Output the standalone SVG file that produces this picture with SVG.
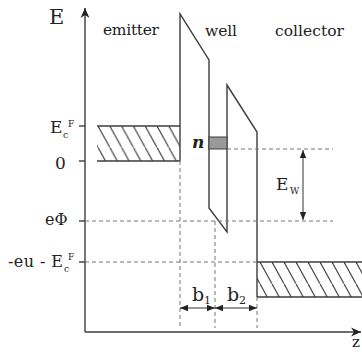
<svg xmlns="http://www.w3.org/2000/svg" width="362" height="356" viewBox="0 0 362 356">
<style>
text{font-family:"DejaVu Serif",serif;fill:#222}
.s{stroke:#3c3c3c;stroke-width:1.4;fill:none}
.d{stroke:#777;stroke-width:1;stroke-dasharray:4 3;fill:none}
.h{stroke:#3c3c3c;stroke-width:1.1}
</style>
<defs>
<pattern id="hatchE" patternUnits="userSpaceOnUse" x="98" y="126" width="11.8" height="21.45">
<line x1="-1" y1="-1.82" x2="12.8" y2="23.27" class="h"/>
</pattern>
<pattern id="hatchC" patternUnits="userSpaceOnUse" x="260" y="262" width="12" height="21.8">
<line x1="-1" y1="-1.82" x2="13" y2="23.62" class="h"/>
</pattern>
<marker id="ah" viewBox="0 0 10 10" refX="10" refY="5" markerWidth="8" markerHeight="8" markerUnits="userSpaceOnUse" orient="auto-start-reverse">
<path d="M0,1 L10,5 L0,9 Z" fill="#222"/>
</marker>
<marker id="ax" viewBox="0 0 10 10" refX="10" refY="5" markerWidth="10" markerHeight="10" markerUnits="userSpaceOnUse" orient="auto">
<path d="M0,0.5 L10,5 L0,9.5 L3,5 Z" fill="#222"/>
</marker>
</defs>

<g id="axes">
<line x1="85" y1="332" x2="85" y2="8" class="s" marker-end="url(#ax)"/>
<line x1="85" y1="332" x2="361" y2="332" class="s" marker-end="url(#ax)"/>
<line x1="79" y1="126" x2="85" y2="126" class="s"/>
<line x1="79" y1="161" x2="85" y2="161" class="s"/>
<line x1="79" y1="221" x2="85" y2="221" class="s"/>
<line x1="79" y1="262" x2="85" y2="262" class="s"/>
<text x="49" y="24" font-size="21">E</text>
<text x="352" y="347" font-size="15">z</text>
</g>

<g id="emitter">
<rect x="97" y="126" width="83" height="35" fill="url(#hatchE)"/>
<line x1="97" y1="126" x2="180" y2="126" class="s"/>
<line x1="97" y1="161" x2="180" y2="161" class="s"/>
<text x="103" y="35" font-size="15.5" textLength="56">emitter</text>
</g>

<g id="collector">
<rect x="257" y="262" width="105" height="35" fill="url(#hatchC)"/>
<line x1="257" y1="262" x2="362" y2="262" class="s"/>
<line x1="257" y1="297" x2="362" y2="297" class="s"/>
<text x="275" y="36" font-size="15.5" textLength="69">collector</text>
</g>

<g id="well">
<polyline points="180,161 180,14 209,60 209,208 227,232 227,85 257,132 257,297" class="s" stroke-linejoin="miter"/>
<rect x="209" y="137" width="18" height="12" fill="#9a9a9a" stroke="#3c3c3c" stroke-width="1"/>
<text x="205" y="36" font-size="15.5" textLength="32">well</text>
<text x="192" y="148" font-size="17" font-weight="bold" font-style="italic">n</text>
</g>

<g id="connectors">
<line x1="85" y1="221" x2="333" y2="221" class="d"/>
<line x1="227" y1="149" x2="333" y2="149" class="d"/>
<line x1="85" y1="262" x2="257" y2="262" class="d"/>
<line x1="180" y1="161" x2="180" y2="328" class="d"/>
<line x1="215" y1="221" x2="215" y2="328" class="d"/>
<line x1="257" y1="297" x2="257" y2="328" class="d"/>
<line x1="303" y1="150" x2="303" y2="220" stroke="#333" stroke-width="1" marker-start="url(#ah)" marker-end="url(#ah)"/>
<line x1="180" y1="308" x2="215" y2="308" stroke="#333" stroke-width="1.2" marker-start="url(#ah)" marker-end="url(#ah)"/>
<line x1="215" y1="308" x2="257" y2="308" stroke="#333" stroke-width="1.2" marker-start="url(#ah)" marker-end="url(#ah)"/>
</g>

<g id="labels">
<text x="50" y="133" font-size="17">E</text>
<text x="63" y="138" font-size="9">c</text>
<text x="68" y="127" font-size="9">F</text>
<text x="55" y="169" font-size="17">0</text>
<text x="45" y="225" font-size="16">eΦ</text>
<text x="8" y="267" font-size="16" textLength="55">-eu - E</text>
<text x="64" y="272" font-size="9">c</text>
<text x="68" y="260" font-size="9">F</text>
<text x="276" y="190" font-size="17">E</text>
<text x="290" y="194" font-size="9">W</text>
<text x="192" y="301" font-size="19">b</text>
<text x="204" y="304" font-size="11">1</text>
<text x="227" y="301" font-size="19">b</text>
<text x="239" y="304" font-size="11">2</text>
</g>
</svg>
